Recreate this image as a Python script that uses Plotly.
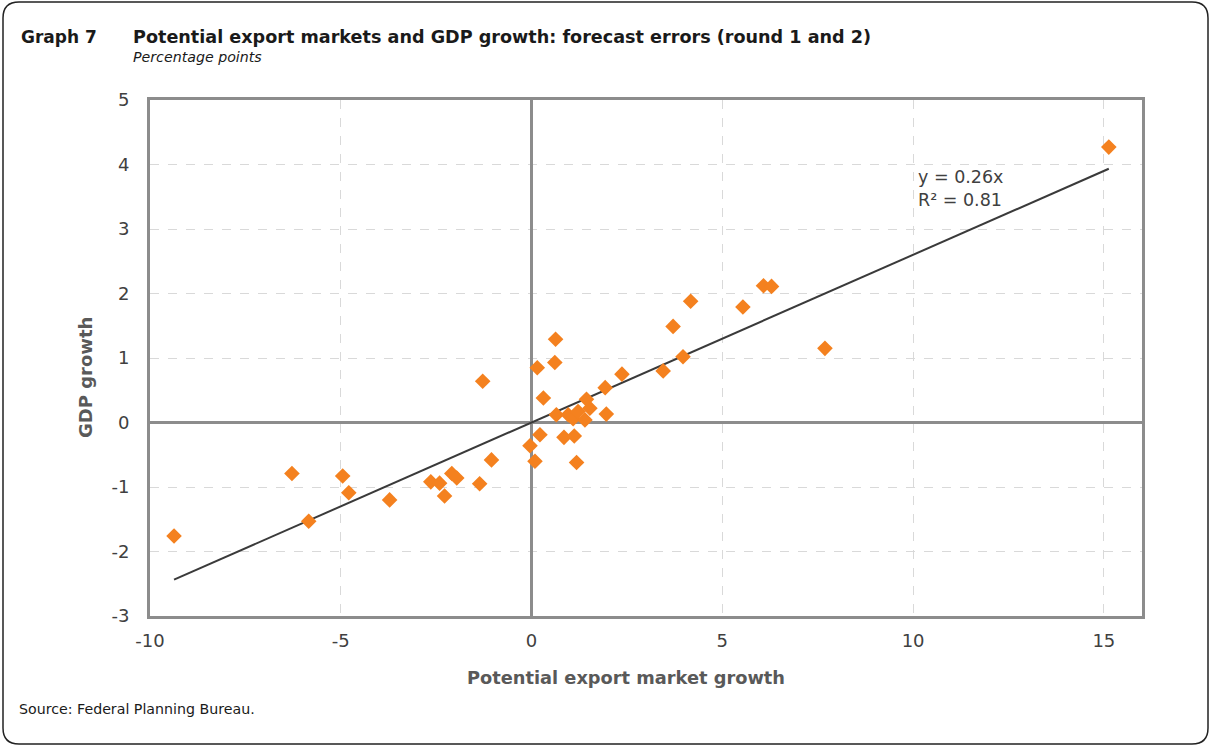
import numpy as np
import plotly.graph_objects as go

# Forecast errors (percentage points)
export_market_growth = [
    15.13, -9.37, -6.28, -5.84, -4.95, -4.79, -3.72, -2.64, -2.41, -2.28,
    -2.09, -1.96, -1.36, -1.28, -1.05, -0.04, 0.09, 0.22, 0.15, 0.61,
    0.63, 0.31, 0.65, 0.96, 1.09, 1.22, 1.40, 1.53, 1.44, 1.96,
    1.93, 2.37, 3.45, 3.97, 3.71, 4.17, 5.54, 6.08, 6.29, 7.69,
    0.85, 1.12, 1.18,
]
gdp_growth = [
    4.27, -1.76, -0.79, -1.53, -0.83, -1.09, -1.20, -0.92, -0.94, -1.14,
    -0.79, -0.86, -0.95, 0.64, -0.58, -0.36, -0.60, -0.19, 0.85, 0.93,
    1.29, 0.38, 0.12, 0.12, 0.06, 0.17, 0.04, 0.22, 0.36, 0.13,
    0.54, 0.75, 0.80, 1.02, 1.49, 1.88, 1.79, 2.12, 2.11, 1.15,
    -0.23, -0.21, -0.62,
]
trend_slope = 0.26
r_squared = 0.81

x_ticks = [-10, -5, 0, 5, 10, 15]
x_tick_labels = ["-10", "-5", "0", "5", "10", "15"]
y_ticks = [-3, -2, -1, 0, 1, 2, 3, 4, 5]
y_tick_labels = ["-3", "-2", "-1", "0", "1", "2", "3", "4", "5"]

W, H = 1212, 746
L, R, T, B = 150, 70, 100, 130
PW, PH = W - L - R, H - T - B

FONT = "DejaVu Sans"
TXT = "#404040"
AXIS = "#8c8c8c"
ORANGE = "#F4811F"


def px_x(p):
    return (p - L) / PW


def px_y(p):
    return (H - B - p) / PH


fig = go.Figure()

# fitted line through the origin, drawn across the data range
x_line = np.array([min(export_market_growth), max(export_market_growth)])
fig.add_trace(go.Scatter(
    x=x_line, y=trend_slope * x_line, mode="lines",
    line=dict(color="#3a3a3a", width=2), hoverinfo="skip", showlegend=False,
))

fig.add_trace(go.Scatter(
    x=export_market_growth, y=gdp_growth, mode="markers",
    marker=dict(symbol="diamond", size=12, color=ORANGE, line=dict(width=0)),
    showlegend=False,
))

# rounded frame around the whole graphic
x0, x1, y0, y1, r = 3, 1208, 2, 744, 16
path = (
    f"M {px_x(x0 + r)},{px_y(y0)} L {px_x(x1 - r)},{px_y(y0)} "
    f"Q {px_x(x1)},{px_y(y0)} {px_x(x1)},{px_y(y0 + r)} "
    f"L {px_x(x1)},{px_y(y1 - r)} "
    f"Q {px_x(x1)},{px_y(y1)} {px_x(x1 - r)},{px_y(y1)} "
    f"L {px_x(x0 + r)},{px_y(y1)} "
    f"Q {px_x(x0)},{px_y(y1)} {px_x(x0)},{px_y(y1 - r)} "
    f"L {px_x(x0)},{px_y(y0 + r)} "
    f"Q {px_x(x0)},{px_y(y0)} {px_x(x0 + r)},{px_y(y0)} Z"
)
fig.add_shape(type="path", path=path, xref="paper", yref="paper",
              line=dict(color="#222222", width=1.5), layer="above")

annotations = [
    dict(text="<b>Graph 7</b>", x=px_x(19), y=px_y(37), xanchor="left", yanchor="middle",
         font=dict(size=17, color="#1a1a1a")),
    dict(text="<b>Potential export markets and GDP growth: forecast errors (round 1 and 2)</b>",
         x=px_x(131), y=px_y(37), xanchor="left", yanchor="middle",
         font=dict(size=17.6, color="#1a1a1a")),
    dict(text="<i>Percentage points</i>", x=px_x(131), y=px_y(57), xanchor="left", yanchor="middle",
         font=dict(size=14.2, color="#1a1a1a")),
    dict(text="Source: Federal Planning Bureau.", x=px_x(17), y=px_y(709), xanchor="left",
         yanchor="middle", font=dict(size=14.2, color="#1a1a1a")),
    dict(text=f"y = {trend_slope:.2f}x<br>R² = {r_squared:.2f}", x=px_x(916), y=px_y(188),
         xanchor="left", yanchor="middle", align="left", font=dict(size=17.5, color=TXT)),
    dict(text="<b>GDP growth</b>", x=px_x(85), y=px_y(378), xanchor="center", yanchor="middle",
         textangle=-90, font=dict(size=18, color="#595959")),
    dict(text="<b>Potential export market growth</b>", x=px_x(626), y=px_y(677),
         xanchor="center", yanchor="middle", font=dict(size=17.8, color="#595959")),
]
for a in annotations:
    a.update(xref="paper", yref="paper", showarrow=False)

fig.update_layout(
    width=W, height=H,
    margin=dict(l=L, r=R, t=T, b=B),
    paper_bgcolor="white", plot_bgcolor="white",
    font=dict(family=FONT, color=TXT),
    annotations=annotations,
    xaxis=dict(
        range=[-10, 16], tickvals=x_ticks, ticktext=x_tick_labels, ticks="",
        ticklabelstandoff=6, tickfont=dict(size=18, color=TXT),
        showgrid=True, gridcolor="#d9d9d9", griddash="dash", gridwidth=1,
        zeroline=True, zerolinecolor=AXIS, zerolinewidth=3,
        showline=True, linecolor=AXIS, linewidth=3, mirror=True,
    ),
    yaxis=dict(
        range=[-3, 5], tickvals=y_ticks, ticktext=y_tick_labels, ticks="",
        ticklabelstandoff=14, tickfont=dict(size=18, color=TXT),
        showgrid=True, gridcolor="#d9d9d9", griddash="dash", gridwidth=1,
        zeroline=True, zerolinecolor=AXIS, zerolinewidth=3,
        showline=True, linecolor=AXIS, linewidth=3, mirror=True,
    ),
)

fig.write_html("out.html")
